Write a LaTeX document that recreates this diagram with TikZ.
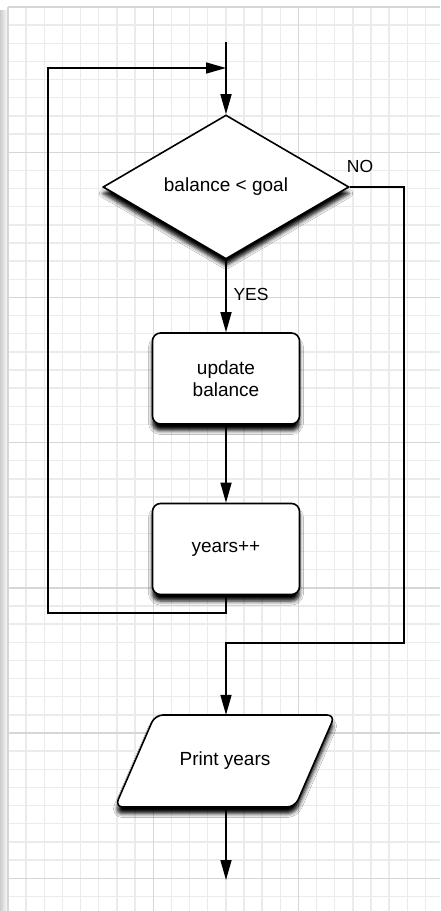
\documentclass[tikz,border=0pt]{standalone}
\usepackage{fontspec}
\setmainfont{Liberation Sans}
\usetikzlibrary{shapes.geometric,arrows.meta,shadows.blur}

\begin{document}
\begin{tikzpicture}[x=1pt,y=-1pt,
  minorline/.style={draw=black!8, line width=1.4pt},
  majorline/.style={draw=black!16, line width=1.4pt},
  wire/.style={line width=1.6pt},
  flow/.style={wire, -{Triangle[length=20pt,width=11pt,fill=black]}},
  boxshadow/.style={blur shadow={shadow xshift=0pt, shadow yshift=-6.5pt,
      shadow blur radius=4pt, shadow opacity=100}},
  lbl/.style={font=\fontsize{19}{22.5}\selectfont, align=center},
  decision/.style={diamond, draw, fill=white, line width=1.6pt,
      minimum width=246pt, minimum height=144pt, aspect=1.708,
      inner sep=0pt, boxshadow, lbl},
  process/.style={rectangle, rounded corners=8pt, draw, fill=white,
      line width=1.6pt, minimum width=147pt, minimum height=91pt,
      boxshadow, lbl},
  iotext/.style={rectangle, minimum width=140pt, minimum height=92pt,
      inner sep=0pt, lbl},
  iobox/.style={draw, fill=white, line width=1.6pt, rounded corners=8pt,
      boxshadow},
  tag/.style={font=\fontsize{17.5}{20}\selectfont},
]
\useasboundingbox (0,0) rectangle (440,911);
\clip (0,0) rectangle (440,911);

% paper and grid
\fill[white] (0,0) rectangle (440,911);
\shade[left color=black!20, right color=white] (0,10) rectangle (8,911);
\foreach \i in {0,...,23} {
  \pgfmathsetmacro\gx{8+18.15*\i}
  \draw[minorline] (\gx,7) -- (\gx,911);
}
\foreach \j in {0,...,49} {
  \pgfmathsetmacro\gy{7+18.15*\j}
  \draw[minorline] (8,\gy) -- (440,\gy);
}
\foreach \k in {0,...,2} {
  \pgfmathsetmacro\gx{8+145.2*\k}
  \draw[majorline] (\gx,7) -- (\gx,911);
}
\foreach \k in {0,...,6} {
  \pgfmathsetmacro\gy{7+145.2*\k}
  \draw[majorline] (8,\gy) -- (440,\gy);
}

% flowchart nodes
\node[decision] (test) at (226,187) {balance < goal};
\node[process] (upd) at (226,378.5) {update\\balance};
\node[process] (yrs) at (226,549) {years++};

% output step: slanted box drawn around its text node
\path (225,761) coordinate (prtc);
\begin{scope}
  \draw[iobox] ([shift={(-110,46)}]prtc) -- ([shift={(-70,-46)}]prtc)
    -- ([shift={(110,-46)}]prtc) -- ([shift={(70,46)}]prtc) -- cycle;
\end{scope}
\node[iotext] (prt) at (prtc) {Print years};

% connector ends
\coordinate (entry) at (226,42);
\coordinate (merge) at (226,68);
\coordinate (loopcorner) at (48,613);
\coordinate (nocorner) at (404,643);
\coordinate (exit) at (226,880);

% connectors
\begin{scope}[draw=black, fill=black, opacity=1]
\draw[flow] (entry) -- (test.north);
\draw[flow] (yrs.south) |- (loopcorner) |- (merge);
\draw[flow] (test.south) -- (upd.north);
\draw[flow] (upd.south) -- (yrs.north);
\draw[flow] (test.east) -| (nocorner) -| ([xshift=1pt]prt.north);
\draw[flow] ([xshift=1pt]prt.south) -- (exit);
\end{scope}

% branch labels
\node[tag, anchor=west] (yes) at (230,294) {YES};
\node[tag] (no) at (360,166) {NO};
\end{tikzpicture}
\end{document}
